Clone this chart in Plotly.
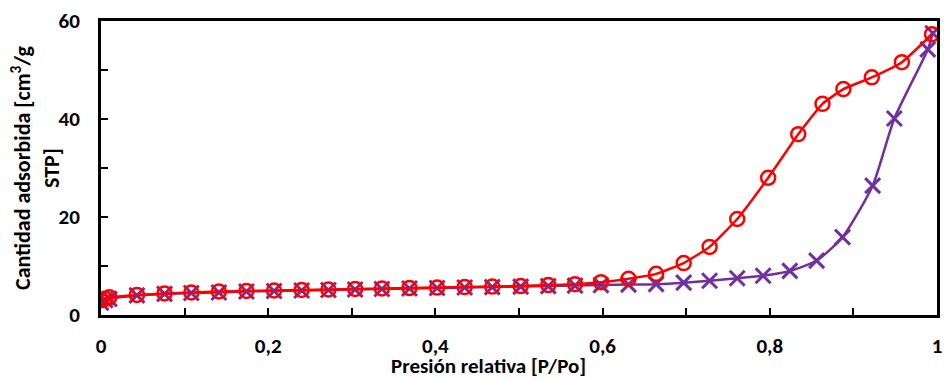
import plotly.graph_objects as go

# Adsorption branch (purple crosses)
ads_p = [0.0, 0.005, 0.01, 0.043, 0.076, 0.108, 0.141, 0.174, 0.207, 0.240,
         0.272, 0.304, 0.336, 0.369, 0.402, 0.435, 0.468, 0.502, 0.535, 0.567,
         0.598, 0.631, 0.664, 0.697, 0.728, 0.761, 0.792, 0.824, 0.856, 0.887,
         0.923, 0.949, 0.989, 0.995]
ads_v = [2.5, 3.0, 3.3, 4.0, 4.3, 4.5, 4.6, 4.8, 4.9, 5.0,
         5.1, 5.2, 5.3, 5.4, 5.5, 5.6, 5.7, 5.8, 5.9, 6.0,
         6.1, 6.2, 6.3, 6.6, 7.0, 7.5, 8.0, 9.0, 11.1, 15.9,
         26.4, 40.1, 54.2, 57.5]

# Desorption branch (red open circles)
des_p = [0.0, 0.005, 0.01, 0.043, 0.076, 0.108, 0.141, 0.174, 0.207, 0.240,
         0.272, 0.304, 0.336, 0.369, 0.402, 0.435, 0.468, 0.502, 0.535, 0.567,
         0.598, 0.631, 0.664, 0.697, 0.728, 0.761, 0.798, 0.834, 0.863, 0.888,
         0.922, 0.958, 0.994]
des_v = [3.0, 3.3, 3.6, 4.1, 4.4, 4.6, 4.8, 4.9, 5.0, 5.1,
         5.2, 5.3, 5.4, 5.5, 5.6, 5.7, 5.8, 5.9, 6.1, 6.3,
         6.7, 7.4, 8.4, 10.6, 13.9, 19.6, 28.0, 36.9, 43.1, 46.1,
         48.5, 51.6, 57.3]

x_ticks = [0, 0.2, 0.4, 0.6, 0.8, 1]
x_labels = ["0", "0,2", "0,4", "0,6", "0,8", "1"]
y_ticks = [0, 20, 40, 60]
y_labels = ["0", "20", "40", "60"]

x_title = "Presión relativa [P/Po]"
y_title = "Cantidad adsorbida [cm<sup>3</sup>/g<br>STP]"

PURPLE = "#7030A0"
RED = "#FF0000"
FONT = "Carlito, Lato, sans-serif"

fig = go.Figure()
fig.add_trace(go.Scatter(
    x=ads_p, y=ads_v, mode="lines+markers",
    line=dict(color=PURPLE, width=2.5, shape="spline", smoothing=0.6),
    marker=dict(symbol="x-thin-open", size=15, color=PURPLE,
                line=dict(color=PURPLE, width=3)),
    showlegend=False,
))
fig.add_trace(go.Scatter(
    x=des_p, y=des_v, mode="lines+markers",
    line=dict(color=RED, width=2.5, shape="spline", smoothing=0.4),
    marker=dict(symbol="circle-open", size=14, color=RED,
                line=dict(color=RED, width=2.5)),
    showlegend=False,
))

axis_common = dict(
    showline=True, linecolor="black", linewidth=3, mirror=True,
    showgrid=False, zeroline=False,
    ticks="inside", ticklen=7, tickwidth=2, tickcolor="black",
    tickfont=dict(family=FONT, size=21, color="black", weight="bold"),
)

fig.update_layout(
    width=945, height=379,
    margin=dict(l=101, r=3, t=21, b=64),
    paper_bgcolor="white", plot_bgcolor="white",
    xaxis=dict(
        range=[0, 1], tickvals=x_ticks, ticktext=x_labels,
        minor=dict(dtick=0.1, ticks="inside", ticklen=7, tickwidth=2, tickcolor="black"),
        ticklabelstandoff=10,
        **axis_common,
    ),
    yaxis=dict(
        range=[0, 60], tickvals=y_ticks, ticktext=y_labels,
        minor=dict(dtick=10, ticks="inside", ticklen=7, tickwidth=2, tickcolor="black"),
        ticklabelstandoff=14,
        **axis_common,
    ),
)

# Axis titles placed as annotations
fig.add_annotation(
    text=x_title, xref="paper", yref="paper", x=0.464, y=0,
    xanchor="center", yanchor="middle", yshift=-51, showarrow=False,
    font=dict(family=FONT, size=21, color="black", weight="bold"),
)
fig.add_annotation(
    text=y_title, xref="paper", yref="paper", x=0, y=0.5,
    xanchor="center", yanchor="middle", xshift=-66, textangle=-90, showarrow=False,
    font=dict(family=FONT, size=22, color="black", weight="bold"),
)

fig.write_html("out.html")
